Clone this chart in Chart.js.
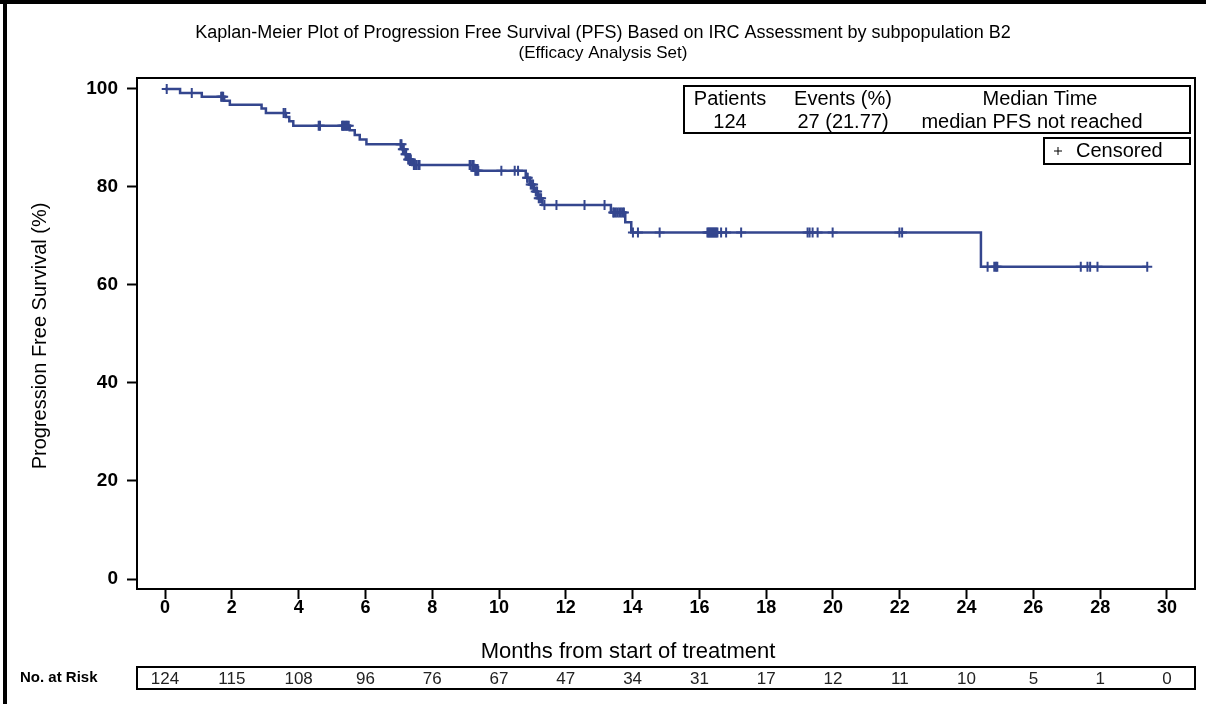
<!DOCTYPE html>
<html>
<head>
<meta charset="utf-8">
<script src="https://cdn.jsdelivr.net/npm/chart.js@4.4.1/dist/chart.umd.min.js"></script>
<style>
  html, body { margin: 0; padding: 0; background: #ffffff; }
  canvas { display: block; }
</style>
</head>
<body>
<canvas id="km" width="1206" height="704"></canvas>
<script>
// Progression events: month of event and Kaplan-Meier estimate (%) right after it
const eventMonths   = [0.45, 1.10, 1.77, 1.94, 2.89, 3.02, 3.62, 3.72, 3.84,
                       5.53, 5.68, 5.83, 6.03, 7.10, 7.18, 7.26, 7.40, 9.27,
                       10.80, 10.92, 11.04, 11.16, 11.30, 13.35, 13.78, 13.96, 24.43];
const eventSurvival = [99.2, 98.4, 97.6, 96.8, 96.0, 95.1, 94.3, 93.4, 92.5,
                       91.6, 90.6, 89.7, 88.7, 87.7, 86.7, 85.6, 84.5, 83.3,
                       81.9, 80.5, 79.1, 77.7, 76.3, 74.8, 72.8, 70.7, 63.7];

// Censoring times (months)
const censorMonths = [0.05, 0.80, 1.68, 1.71, 1.74, 3.55, 3.60, 4.60, 4.64,
                      5.30, 5.33, 5.36, 5.40, 5.43, 5.46, 5.50,
                      7.05, 7.08, 7.12, 7.15, 7.20, 7.22, 7.28, 7.31, 7.33, 7.36,
                      7.45, 7.48, 7.52, 7.58, 7.62,
                      9.12, 9.15, 9.20, 9.24, 9.29, 9.32, 9.35, 9.38,
                      10.07, 10.47, 10.57, 10.84, 10.86, 10.95, 10.98, 11.02, 11.10,
                      11.14, 11.19, 11.22, 11.26, 11.36, 11.72, 12.56, 13.16,
                      13.42, 13.45, 13.50, 13.55, 13.60, 13.65, 13.70, 13.74,
                      14.01, 14.16, 14.81,
                      16.24, 16.27, 16.30, 16.33, 16.36, 16.39, 16.42, 16.45, 16.48,
                      16.51, 16.54, 16.65, 16.80, 17.25,
                      19.24, 19.30, 19.39, 19.54, 19.99, 21.99, 22.07,
                      24.63, 24.83, 24.88, 24.92, 27.42, 27.62, 27.70, 27.92, 29.41];
const lastFollowUp = 29.41;

// Axis ticks
const xTickValues = [0, 2, 4, 6, 8, 10, 12, 14, 16, 18, 20, 22, 24, 26, 28, 30];
const yTickValues = [0, 20, 40, 60, 80, 100];

// Number at risk at each x tick
const atRiskCounts = [124, 115, 108, 96, 76, 67, 47, 34, 31, 17, 12, 11, 10, 5, 1, 0];

// Summary table
const summaryHeaders = ['Patients', 'Events (%)', 'Median Time'];
const summaryValues  = ['124', '27 (21.77)', 'median PFS not reached'];

const titleLines = [
  'Kaplan-Meier Plot of Progression Free Survival (PFS) Based on IRC Assessment by subpopulation B2',
  '(Efficacy Analysis Set)'
];
const xTitle = 'Months from start of treatment';
const yTitle = 'Progression Free Survival (%)';

const CURVE = '#34468e';
const SANS = '"Liberation Sans", Arial, sans-serif';

function survivalAt(t) {
  let s = 100;
  for (let i = 0; i < eventMonths.length; i++) {
    if (eventMonths[i] <= t) s = eventSurvival[i];
  }
  return s;
}

const curvePoints = [{ x: 0, y: 100 }];
eventMonths.forEach((t, i) => curvePoints.push({ x: t, y: eventSurvival[i] }));
curvePoints.push({ x: lastFollowUp, y: survivalAt(lastFollowUp) });

const censorPoints = censorMonths.map(t => ({ x: t, y: survivalAt(t) }));

const decorations = {
  id: 'decorations',
  afterDraw(chart) {
    const ctx = chart.ctx;
    const a = chart.chartArea;
    const xs = chart.scales.x;
    ctx.save();

    // page border
    ctx.fillStyle = '#000';
    ctx.fillRect(0, 0, 1206, 4);
    ctx.fillRect(3, 0, 4, 704);

    // plot frame
    ctx.strokeStyle = '#000';
    ctx.lineWidth = 2;
    ctx.strokeRect(a.left, a.top, a.right - a.left, a.bottom - a.top);

    // titles
    ctx.fillStyle = '#000';
    ctx.textAlign = 'center';
    ctx.textBaseline = 'middle';
    ctx.font = '18px ' + SANS;
    ctx.fillText(titleLines[0], 603, 33);
    ctx.font = '17px ' + SANS;
    ctx.fillText(titleLines[1], 603, 53);

    ctx.font = '22px ' + SANS;
    ctx.fillText(xTitle, 628, 652);

    ctx.save();
    ctx.translate(40, 336);
    ctx.rotate(-Math.PI / 2);
    ctx.font = '20px ' + SANS;
    ctx.fillText(yTitle, 0, 0);
    ctx.restore();

    // summary table
    ctx.lineWidth = 2;
    ctx.strokeRect(684, 86, 1190 - 684, 133 - 86);
    ctx.font = '20px ' + SANS;
    const colX = [730, 843, 1040];
    summaryHeaders.forEach((h, i) => ctx.fillText(h, colX[i], 99));
    summaryValues.forEach((v, i) => ctx.fillText(v, i === 2 ? 1032 : colX[i], 122));

    // censoring legend
    ctx.strokeRect(1044, 138, 1190 - 1044, 164 - 138);
    ctx.strokeStyle = '#000';
    ctx.lineWidth = 1;
    ctx.beginPath();
    ctx.moveTo(1054, 151); ctx.lineTo(1062, 151);
    ctx.moveTo(1058, 147); ctx.lineTo(1058, 155);
    ctx.stroke();
    ctx.textAlign = 'left';
    ctx.fillText('Censored', 1076, 151);

    // number at risk row
    ctx.lineWidth = 2;
    ctx.strokeRect(a.left, 667, a.right - a.left, 22);
    ctx.font = 'bold 15px ' + SANS;
    ctx.textAlign = 'left';
    ctx.fillText('No. at Risk', 20, 678);
    ctx.font = '17px ' + SANS;
    ctx.fillStyle = '#222';
    ctx.textAlign = 'center';
    xTickValues.forEach((m, i) => {
      ctx.fillText(String(atRiskCounts[i]), xs.getPixelForValue(m), 679);
    });

    ctx.restore();
  }
};

new Chart(document.getElementById('km'), {
  type: 'line',
  data: {
    datasets: [
      {
        label: 'PFS',
        data: curvePoints,
        stepped: 'before',
        borderColor: CURVE,
        borderWidth: 2.5,
        pointRadius: 0,
        fill: false
      },
      {
        label: 'Censored',
        data: censorPoints,
        showLine: false,
        pointStyle: 'cross',
        pointRadius: 5,
        pointBorderWidth: 2,
        pointBorderColor: CURVE,
        pointBackgroundColor: CURVE
      }
    ]
  },
  options: {
    responsive: false,
    animation: false,
    events: [],
    layout: { padding: { top: 78, right: 11, left: 0, bottom: 0 } },
    plugins: {
      legend: { display: false },
      title: { display: false },
      tooltip: { enabled: false }
    },
    scales: {
      x: {
        type: 'linear',
        min: -0.84,
        max: 30.84,
        afterBuildTicks: s => { s.ticks = xTickValues.map(v => ({ value: v })); },
        afterFit: s => { s.height = 115; },
        grid: { drawOnChartArea: false, drawTicks: true, tickLength: 10, tickColor: '#000', tickWidth: 2 },
        border: { display: false },
        ticks: {
          autoSkip: false, maxRotation: 0, padding: -2, color: '#000',
          font: { family: SANS, size: 18, weight: 'bold' }
        }
      },
      y: {
        type: 'linear',
        min: -2.04,
        max: 102.24,
        afterBuildTicks: s => { s.ticks = yTickValues.map(v => ({ value: v })); },
        afterFit: s => { s.width = 137; },
        grid: { drawOnChartArea: false, drawTicks: true, tickLength: 10, tickColor: '#000', tickWidth: 2 },
        border: { display: false },
        ticks: {
          autoSkip: false, padding: 9, color: '#000',
          font: { family: SANS, size: 19, weight: 'bold' }
        }
      }
    }
  },
  plugins: [decorations]
});
</script>
</body>
</html>
